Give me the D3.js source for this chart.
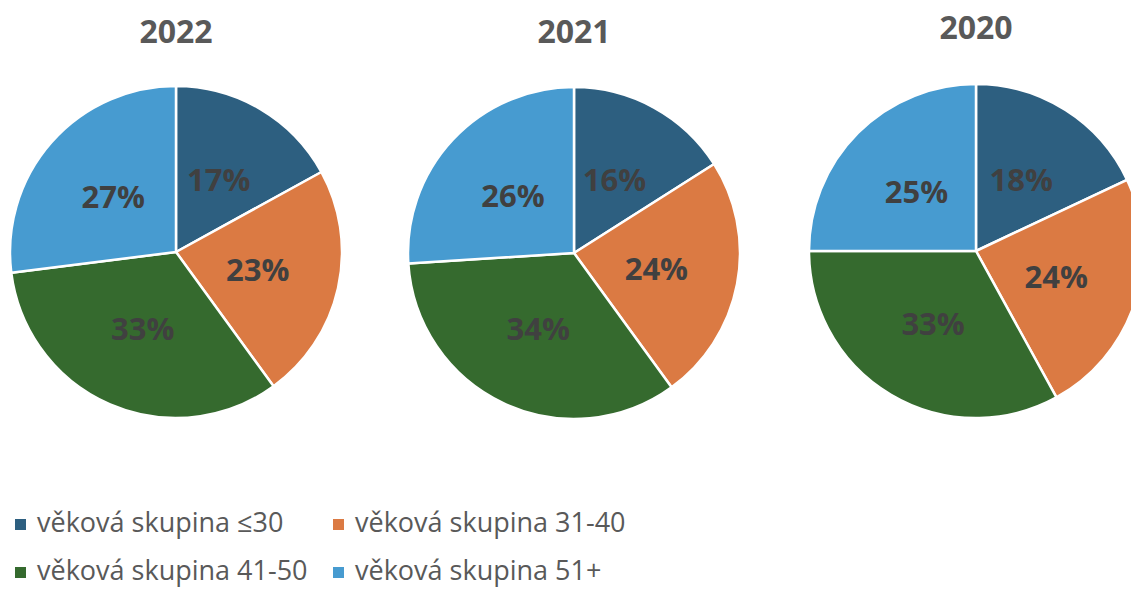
<!DOCTYPE html>
<html>
<head>
<meta charset="utf-8">
<script src="https://cdn.jsdelivr.net/npm/d3@7/dist/d3.min.js"></script>
<style>
  html, body { margin: 0; padding: 0; background: #fff; }
  svg { display: block; }
</style>
</head>
<body>
<div id="chart"></div>
<script>
// data
const years = [`2022`, `2021`, `2020`];
const groups = [`věková skupina ≤30`, `věková skupina 31-40`, `věková skupina 41-50`, `věková skupina 51+`];
const shares2022 = [17, 23, 33, 27];
const shares2021 = [16, 24, 34, 26];
const shares2020 = [18, 24, 33, 25];
const sharesByYear = [shares2022, shares2021, shares2020];

const colors = [`#2d5f80`, `#db7a43`, `#356a2e`, `#479bd0`];

const width = 1131;
const height = 591;

// layout of the three pies (center x, center y, radius, title baseline)
const pies = [
  { cx: 176, cy: 252, r: 166, ty: 43 },
  { cx: 574, cy: 253, r: 166, ty: 43 },
  { cx: 976, cy: 251, r: 167, ty: 39 }
];

const svg = d3.select(`#chart`).append(`svg`)
    .attr(`width`, width)
    .attr(`height`, height);

const pie = d3.pie().sort(null).value((d) => d);
const color = d3.scaleOrdinal().domain(groups).range(colors);

years.forEach((year, i) => {
  const p = pies[i];
  const arc = d3.arc().innerRadius(0).outerRadius(p.r);
  const labelArc = d3.arc().innerRadius(p.r * 0.505).outerRadius(p.r * 0.505);

  svg.append(`text`)
      .attr(`x`, p.cx)
      .attr(`y`, p.ty)
      .attr(`text-anchor`, `middle`)
      .attr(`font-family`, `"Open Sans", sans-serif`)
      .attr(`font-weight`, `bold`)
      .attr(`font-size`, 32)
      .attr(`fill`, `#595959`)
      .text(year);

  const g = svg.append(`g`)
      .attr(`transform`, `translate(${p.cx},${p.cy})`);

  const slices = pie(sharesByYear[i]);

  g.selectAll(`path`)
      .data(slices)
    .enter().append(`path`)
      .attr(`d`, arc)
      .attr(`fill`, (d, j) => color(groups[j]))
      .attr(`stroke`, `#fff`)
      .attr(`stroke-width`, 2.5)
      .attr(`stroke-linejoin`, `round`);

  g.selectAll(`text`)
      .data(slices)
    .enter().append(`text`)
      .attr(`transform`, (d) => `translate(${labelArc.centroid(d)})`)
      .attr(`text-anchor`, `middle`)
      .attr(`dy`, `0.36em`)
      .attr(`font-family`, `"Open Sans", sans-serif`)
      .attr(`font-weight`, `bold`)
      .attr(`font-size`, 31)
      .attr(`fill`, `#404040`)
      .text((d) => `${d.data}%`);
});

// legend, two columns x two rows
const legendCols = [15, 333];
const legendRows = [532, 580];

const legend = svg.selectAll(`.legend`)
    .data(groups)
  .enter().append(`g`)
    .attr(`class`, `legend`)
    .attr(`transform`, (d, i) => `translate(${legendCols[i % 2]},${legendRows[Math.floor(i / 2)]})`);

legend.append(`rect`)
    .attr(`x`, 0)
    .attr(`y`, -13)
    .attr(`width`, 11)
    .attr(`height`, 11)
    .attr(`fill`, (d) => color(d));

legend.append(`text`)
    .attr(`x`, 22)
    .attr(`y`, 0)
    .attr(`font-family`, `"Open Sans", sans-serif`)
    .attr(`font-size`, 27)
    .attr(`fill`, `#595959`)
    .text((d) => d);
</script>
</body>
</html>
